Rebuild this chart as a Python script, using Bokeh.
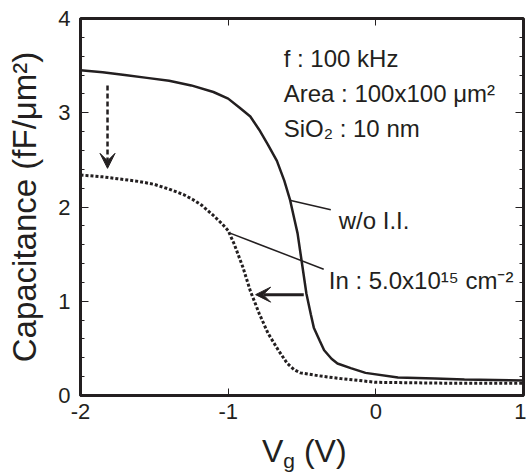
from bokeh.plotting import figure
from bokeh.layouts import column
from bokeh.models import Label, Arrow, VeeHead, LinearAxis, FixedTicker, Range1d, Div
from bokeh.embed import file_html
from bokeh.resources import INLINE

# ---- data ----
vg_wo = [-2.00, -1.85, -1.70, -1.55, -1.40, -1.25, -1.10, -1.00, -0.92, -0.85,
         -0.79, -0.73, -0.67, -0.62, -0.58, -0.55, -0.53, -0.50, -0.47, -0.44,
         -0.42, -0.38, -0.35, -0.30, -0.26, -0.17, -0.07, 0.15, 0.40, 0.60, 1.00]
c_wo = [3.45, 3.43, 3.40, 3.37, 3.34, 3.29, 3.22, 3.15, 3.05, 2.96,
        2.82, 2.66, 2.49, 2.28, 2.07, 1.86, 1.72, 1.40, 1.08, 0.86,
        0.72, 0.58, 0.48, 0.39, 0.34, 0.29, 0.24, 0.19, 0.18, 0.17, 0.16]

vg_in = [-2.00, -1.85, -1.75, -1.60, -1.50, -1.40, -1.30, -1.24, -1.18, -1.10,
         -1.04, -1.00, -0.96, -0.90, -0.85, -0.79, -0.73, -0.66, -0.60, -0.55,
         -0.51, -0.39, -0.24, 0.00, 0.50, 1.00]
c_in = [2.34, 2.32, 2.30, 2.27, 2.24, 2.19, 2.13, 2.08, 2.02, 1.91,
        1.82, 1.75, 1.61, 1.36, 1.11, 0.87, 0.66, 0.48, 0.34, 0.27,
        0.24, 0.21, 0.18, 0.14, 0.13, 0.13]

x_ticks = [-2, -1, 0, 1]
x_tick_labels = ["-2", "-1", "0", "1"]
y_ticks = [0, 1, 2, 3, 4]
y_tick_labels = ["0", "1", "2", "3", "4"]
y_minor = [round(0.2 * i, 1) for i in range(21) if i % 5 != 0]

INK = "#231f20"
FONT = "Liberation Sans"

p = figure(width=526, height=432, x_range=Range1d(-2, 1), y_range=Range1d(0, 4),
           output_backend="svg", toolbar_location=None, title=None,
           min_border_left=80, min_border_right=3, min_border_top=18, min_border_bottom=37)
p.xgrid.visible = False
p.ygrid.visible = False
p.outline_line_color = INK
p.outline_line_width = 3

for ax in p.xaxis:
    ax.ticker = FixedTicker(ticks=x_ticks)
    ax.major_label_overrides = dict(zip(x_ticks, x_tick_labels))
    ax.major_tick_in = 7
    ax.major_tick_out = 0
    ax.minor_tick_in = 0
    ax.minor_tick_out = 0
    ax.major_tick_line_color = INK
    ax.axis_line_color = INK
    ax.axis_line_width = 3
    ax.major_label_text_font = FONT
    ax.major_label_text_font_size = "22px"
    ax.major_label_text_color = INK
    ax.major_label_standoff = 8

for ax in p.yaxis:
    ax.ticker = FixedTicker(ticks=y_ticks, minor_ticks=y_minor)
    ax.major_label_overrides = dict(zip(y_ticks, y_tick_labels))
    ax.major_tick_in = 8
    ax.major_tick_out = 0
    ax.minor_tick_in = 4
    ax.minor_tick_out = 0
    ax.major_tick_line_color = INK
    ax.minor_tick_line_color = INK
    ax.axis_line_color = INK
    ax.axis_line_width = 3
    ax.major_label_text_font = FONT
    ax.major_label_text_font_size = "22px"
    ax.major_label_text_color = INK
    ax.major_label_standoff = 10
    ax.axis_label = "Capacitance (fF/\u03bcm\u00b2)"
    ax.axis_label_text_font = FONT
    ax.axis_label_text_font_size = "33px"
    ax.axis_label_text_font_style = "normal"
    ax.axis_label_text_color = INK
    ax.axis_label_standoff = 12

top = LinearAxis(ticker=FixedTicker(ticks=x_ticks), major_tick_in=7, major_tick_out=0,
                 minor_tick_in=0, minor_tick_out=0, axis_line_color=None,
                 major_label_overrides={t: "" for t in x_ticks}, major_label_standoff=0,
                 major_tick_line_color=INK)
right = LinearAxis(ticker=FixedTicker(ticks=y_ticks, minor_ticks=y_minor), major_tick_in=8,
                   major_tick_out=0, minor_tick_in=4, minor_tick_out=0, axis_line_color=None,
                   major_label_overrides={t: "" for t in y_ticks}, major_label_standoff=0,
                   major_tick_line_color=INK, minor_tick_line_color=INK)
p.add_layout(top, "above")
p.add_layout(right, "right")

# ---- curves ----
p.line(vg_wo, c_wo, line_width=2.5, line_color=INK)
p.line(vg_in, c_in, line_width=3, line_color=INK, line_dash="3 2")

# ---- arrows ----
p.add_layout(Arrow(end=VeeHead(size=15, fill_color=INK, line_color=INK, line_width=1),
                   x_start=-1.817, y_start=3.29, x_end=-1.817, y_end=2.41,
                   line_color=INK, line_width=2.5, line_dash="5 3"))
p.add_layout(Arrow(end=VeeHead(size=15, fill_color=INK, line_color=INK, line_width=1),
                   x_start=-0.488, y_start=1.07, x_end=-0.814, y_end=1.07,
                   line_color=INK, line_width=3))

# ---- leader lines ----
p.segment(x0=[-0.576, -0.983], y0=[2.07, 1.72], x1=[-0.305, -0.353], y1=[1.97, 1.34],
          line_color=INK, line_width=1.5)

def lab(fig, x, y, text, size="24px"):
    fig.add_layout(Label(x=x, y=y, text=text, text_font=FONT, text_font_size=size,
                         text_color=INK, text_baseline="alphabetic"))

lab(p, -0.624, 3.576, "f : 100 kHz")
lab(p, -0.624, 3.204, "Area : 100x100 \u03bcm\u00b2")
lab(p, -0.624, 2.833, "SiO\u2082 : 10 nm")
lab(p, -0.251, 1.857, "w/o I.I.")
lab(p, -0.319, 1.22, "In : 5.0x10\u00b9\u2075 cm\u207b\u00b2")

# ---- x axis title V_g (V) as an HTML strip under the plot ----
xtitle = Div(
    text=('<div style="margin:3px 0 0 262px; font-family:\'Liberation Sans\'; '
          'font-size:32px; line-height:32px; color:#231f20; white-space:nowrap;">'
          'V<span style="font-size:21px; position:relative; top:6px;">g</span> (V)</div>'),
    width=526, height=40, margin=(0, 0, 0, 0))

layout = column(p, xtitle, spacing=0)
open("out.html", "w").write(file_html(layout, INLINE))
